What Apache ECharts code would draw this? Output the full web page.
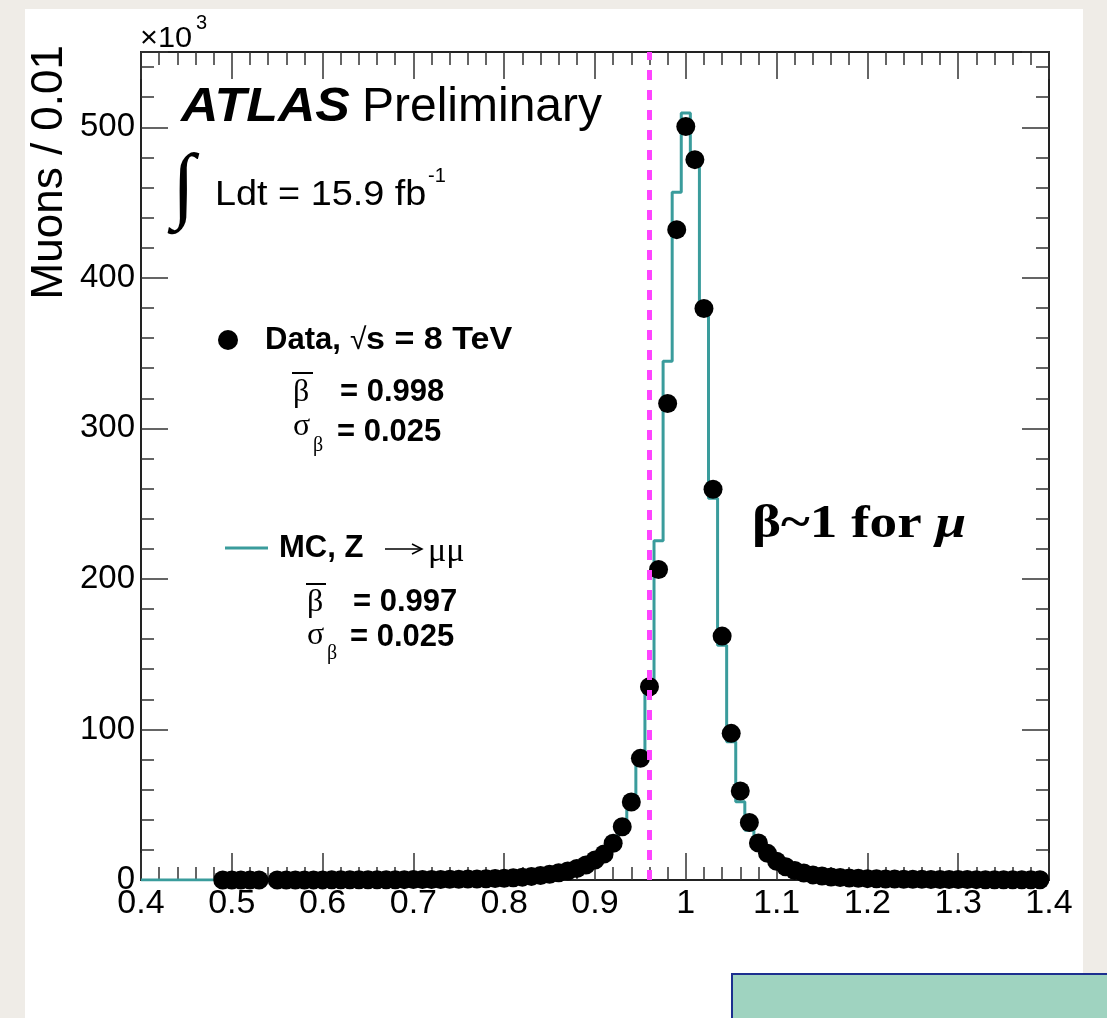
<!DOCTYPE html>
<html><head><meta charset="utf-8">
<script src="https://cdn.jsdelivr.net/npm/echarts@6/dist/echarts.min.js"></script>
<style>
html,body{margin:0;padding:0;width:1107px;height:1018px;overflow:hidden;background:#efece7;}
#panel{position:absolute;left:25px;top:9px;width:1058px;height:1009px;background:#fff;}
#box{position:absolute;left:731px;top:973px;width:400px;height:80px;background:#9fd3c0;border:2px solid #1c2f8f;box-sizing:border-box;}
#chart{position:absolute;left:0;top:0;width:1107px;height:1018px;}
</style></head><body>
<div id="panel"></div><div id="box"></div><div id="chart"></div>
<script>
// bin centres of beta (bin width 0.01)
const binCenters = [
  0.40,0.41,0.42,0.43,0.44,0.45,0.46,0.47,0.48,0.49,
  0.50,0.51,0.52,0.53,0.54,0.55,0.56,0.57,0.58,0.59,
  0.60,0.61,0.62,0.63,0.64,0.65,0.66,0.67,0.68,0.69,
  0.70,0.71,0.72,0.73,0.74,0.75,0.76,0.77,0.78,0.79,
  0.80,0.81,0.82,0.83,0.84,0.85,0.86,0.87,0.88,0.89,
  0.90,0.91,0.92,0.93,0.94,0.95,0.96,0.97,0.98,0.99,
  1.00,1.01,1.02,1.03,1.04,1.05,1.06,1.07,1.08,1.09,
  1.10,1.11,1.12,1.13,1.14,1.15,1.16,1.17,1.18,1.19,
  1.20,1.21,1.22,1.23,1.24,1.25,1.26,1.27,1.28,1.29,
  1.30,1.31,1.32,1.33,1.34,1.35,1.36,1.37,1.38,1.39,
  1.40
];
// Data, sqrt(s) = 8 TeV  (muons / 0.01, in units of 10^3); null = empty bin
const dataCounts = [
  null,null,null,null,null,null,null,null,null,0.03,
  0.03,0.04,0.04,0.04,null,0.05,0.05,0.06,0.06,0.07,
  0.08,0.09,0.10,0.11,0.12,0.14,0.16,0.18,0.20,0.23,
  0.26,0.30,0.34,0.39,0.45,0.52,0.61,0.71,0.84,1.0,
  1.2,1.5,1.9,2.4,3.0,3.8,4.8,6.0,7.7,10.0,
  13.3,17.3,24.4,35.4,51.8,80.8,128.4,206.3,316.5,432.0,
  500.5,478.5,379.6,259.5,162.0,97.4,59.1,38.2,24.6,17.7,
  12.5,8.8,6.3,4.6,3.4,2.6,2.0,1.6,1.3,1.1,
  0.9,0.78,0.68,0.6,0.53,0.47,0.42,0.38,0.34,0.31,
  0.28,0.26,0.24,0.22,0.2,0.19,0.18,0.17,0.16,0.15,
  null
];
// MC, Z -> mu mu
const mcCounts = [
  0,0,0,0,0,0,0,0,0,0.02,
  0.02,0.03,0.03,0.03,0.03,0.04,0.04,0.05,0.05,0.06,
  0.07,0.08,0.09,0.10,0.11,0.13,0.15,0.17,0.19,0.22,
  0.25,0.29,0.33,0.38,0.44,0.51,0.6,0.7,0.83,1.0,
  1.2,1.5,1.9,2.4,3.0,3.8,4.9,6.2,7.9,10.3,
  13.8,18.5,25.5,37.8,55.3,80.8,127.0,225.3,344.6,456.8,
  509.5,479.0,376.0,253.6,156.0,91.8,52.0,33.0,22.0,16.0,
  11.5,8.2,5.9,4.3,3.2,2.4,1.9,1.5,1.2,1.0,
  0.85,0.73,0.63,0.55,0.49,0.44,0.39,0.35,0.32,0.29,
  0.27,0.25,0.23,0.21,0.19,0.18,0.17,0.16,0.15,0.14,
  0.13
];
const betaCut = 0.958;
const xRange = [0.4, 1.4];
const yRange = [0, 550];

const SANS = '"Liberation Sans", Arial, Helvetica, sans-serif';
const SERIF = '"Liberation Serif", "DejaVu Serif", serif';
const TEAL = '#3a9c9c';
const frameStyle = {color:'#222', width:2};
const tickStyle = {color:'#333', width:1.5};

function xAx(pos, showLabel){
  return {type:'value', position:pos, min:xRange[0], max:xRange[1], interval:0.1,
    axisLine:{show:true,onZero:false,lineStyle:frameStyle},
    axisTick:{show:true,inside:true,length:27,lineStyle:tickStyle},
    minorTick:{show:true,splitNumber:5,length:13,lineStyle:tickStyle},
    axisLabel:{show:showLabel,fontFamily:SANS,fontSize:34,color:'#000',margin:7},
    splitLine:{show:false}, minorSplitLine:{show:false}};
}
function yAx(pos, interval, len, showLabel){
  return {type:'value', position:pos, min:yRange[0], max:yRange[1], interval:interval,
    axisLine:{show:true,onZero:false,lineStyle:frameStyle},
    axisTick:{show:true,inside:true,length:len,lineStyle:tickStyle},
    axisLabel:{show:showLabel,fontFamily:SANS,fontSize:33,color:'#000',margin:6,
      formatter:function(v){return (v % 100 === 0) ? String(v) : '';}},
    splitLine:{show:false}};
}

function T(x, y, text, font, extra, sx){
  return {type:'text', x:x, y:y, z:10, scaleX:(sx||1),
    style:Object.assign({text:text, font:font, fill:'#000', align:'left', verticalAlign:'middle'}, extra||{})};
}
function L(x1,y1,x2,y2,color,w){
  return {type:'line', z:10, shape:{x1:x1,y1:y1,x2:x2,y2:y2}, style:{stroke:color,lineWidth:w}};
}

const chart = echarts.init(document.getElementById('chart'), null, {renderer:'canvas'});
chart.setOption({
  animation:false,
  backgroundColor:'transparent',
  grid:{left:141, right:58, top:52, bottom:138, containLabel:false, outerBoundsMode:'none'},
  xAxis:[xAx('bottom', true), xAx('top', false)],
  yAxis:[yAx('left',100,27,true), yAx('left',20,13,false), yAx('right',100,27,false), yAx('right',20,13,false)],
  series:[
    {type:'line', name:'MC', xAxisIndex:0, yAxisIndex:0, step:'middle', showSymbol:false, z:2,
     lineStyle:{color:TEAL, width:3}, itemStyle:{color:TEAL},
     data:binCenters.map(function(x,i){return [x, mcCounts[i]];})},
    {type:'scatter', name:'Data', xAxisIndex:0, yAxisIndex:0, symbol:'circle', symbolSize:19, z:3,
     itemStyle:{color:'#000', opacity:1},
     data:binCenters.map(function(x,i){return [x, dataCounts[i]];}).filter(function(p){return p[1]!==null;})},
    {type:'line', name:'cut', xAxisIndex:0, yAxisIndex:0, data:[], z:5,
     markLine:{silent:true, symbol:'none', label:{show:false},
       lineStyle:{color:'#ff44ff', width:5, type:[10,10], opacity:1},
       data:[{xAxis:betaCut}]}}
  ],
  graphic:[
    {type:'text', x:50, y:45, rotation:Math.PI/2, z:10,
     style:{text:'Muons / 0.01', font:'44px '+SANS, fill:'#000', align:'right', verticalAlign:'middle'}},
    T(140, 39, '×10', '29px '+SANS, null, 1.06),
    T(196, 23, '3', '20px '+SANS),
    T(181, 108, 'ATLAS', 'italic bold 48px '+SANS, null, 1.08),
    T(362, 108, 'Preliminary', '48px '+SANS),
    T(172, 190, '∫', '84px '+SERIF),
    T(215, 195, 'Ldt = 15.9 fb', '35px '+SANS, null, 1.08),
    T(428, 176, '-1', '20px '+SANS),
    {type:'circle', z:10, shape:{cx:228, cy:340, r:10}, style:{fill:'#000'}},
    T(265, 340, 'Data,', 'bold 31px '+SANS),
    T(350, 341, '√', '30px '+SANS),
    T(366, 340, 's = 8 TeV', 'bold 31px '+SANS, null, 1.1),
    T(293, 393, 'β', '32px '+SERIF),
    L(292, 373, 313, 373, '#000', 2),
    T(340, 392, '= 0.998', 'bold 31px '+SANS),
    T(293, 427, 'σ', '32px '+SERIF),
    T(313, 446, 'β', '20px '+SERIF),
    T(337, 432, '= 0.025', 'bold 31px '+SANS),
    L(225, 548, 268, 548, TEAL, 3),
    T(279, 548, 'MC, Z', 'bold 31px '+SANS),
    L(385, 549, 421, 549, '#000', 1.5),
    {type:'polyline', z:10, shape:{points:[[412,544],[422,549],[412,554]]}, style:{stroke:'#000', lineWidth:1.5, fill:null}},
    T(428, 552, 'μμ', '34px '+SERIF),
    T(307, 603, 'β', '32px '+SERIF),
    L(306, 584, 326, 584, '#000', 2),
    T(353, 602, '= 0.997', 'bold 31px '+SANS),
    T(307, 636, 'σ', '32px '+SERIF),
    T(327, 654, 'β', '20px '+SERIF),
    T(350, 637, '= 0.025', 'bold 31px '+SANS),
    {type:'text', x:752, y:525, z:10, scaleX:1.2,
     style:{text:'{a|β~1 for }{b|μ}', align:'left', verticalAlign:'middle', fill:'#000',
       rich:{a:{font:'bold 46px '+SERIF, fill:'#000'}, b:{font:'bold italic 46px '+SERIF, fill:'#000'}}}}
  ]
});
</script></body></html>
